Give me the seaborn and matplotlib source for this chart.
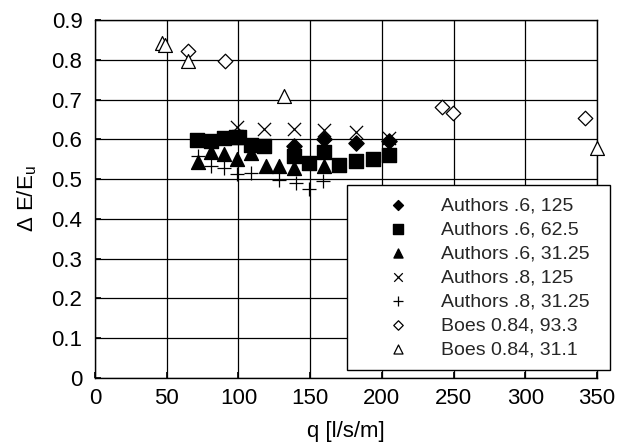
import matplotlib
matplotlib.use("Agg")
import matplotlib.pyplot as plt
import seaborn as sns
import pandas as pd

# Data
a6_125_x = [139, 159.7, 182.3, 205.3]
a6_125_y = [0.584, 0.600, 0.590, 0.596]

a6_625_x = [71.3, 80.6, 90, 98, 100.5, 108.6, 118, 138.6, 149.5, 159.7, 170.3, 181.8, 193.8, 205.3]
a6_625_y = [0.598, 0.596, 0.604, 0.607, 0.607, 0.587, 0.584, 0.557, 0.540, 0.568, 0.536, 0.546, 0.551, 0.561]

a6_3125_x = [71.7, 81, 90, 99.3, 108.6, 119, 128.5, 139, 159.7]
a6_3125_y = [0.544, 0.568, 0.562, 0.550, 0.565, 0.532, 0.532, 0.529, 0.534]

a8_125_x = [99.3, 118, 139, 159.7, 182.3, 205.3]
a8_125_y = [0.632, 0.626, 0.627, 0.623, 0.619, 0.603]

a8_3125_x = [71.7, 81, 90, 99.3, 108.6, 128.5, 140, 149.5, 158.8]
a8_3125_y = [0.557, 0.532, 0.529, 0.512, 0.515, 0.498, 0.490, 0.475, 0.496]

boes_933_x = [64.7, 90.7, 242, 249.5, 341.5]
boes_933_y = [0.822, 0.798, 0.682, 0.667, 0.654]

boes_311_x = [47, 49, 65.1, 132, 350]
boes_311_y = [0.842, 0.836, 0.796, 0.709, 0.578]

labels = ["Authors .6, 125", "Authors .6, 62.5", "Authors .6, 31.25",
          "Authors .8, 125", "Authors .8, 31.25", "Boes 0.84, 93.3", "Boes 0.84, 31.1"]

x_ticks = [0, 50, 100, 150, 200, 250, 300, 350]
y_ticks = [0, 0.1, 0.2, 0.3, 0.4, 0.5, 0.6, 0.7, 0.8, 0.9]

sns.set_theme(style="white")
plt.rcParams['font.family'] = ['Liberation Sans', 'DejaVu Sans']

fig = plt.figure(figsize=(6.2, 4.47), dpi=100)
ax = fig.add_axes([95/620, 1-378/447, (597-95)/620, (378-20)/447])

series = [
    (a6_125_x, a6_125_y, "D", "black", "black", 60, 1.0),
    (a6_625_x, a6_625_y, "s", "black", "black", 105, 1.0),
    (a6_3125_x, a6_3125_y, "^", "black", "black", 100, 1.0),
    (a8_125_x, a8_125_y, "x", "black", "black", 90, 0.9),
    (a8_3125_x, a8_3125_y, "+", "black", "black", 100, 0.9),
    (boes_933_x, boes_933_y, "D", "white", "black", 55, 0.9),
    (boes_311_x, boes_311_y, "^", "white", "black", 100, 0.9),
]

for (xs, ys, m, fc, ec, s, lw), lab in zip(series, labels):
    df = pd.DataFrame({"q": xs, "v": ys})
    if m in ("x", "+"):
        sns.scatterplot(data=df, x="q", y="v", marker=m, color="black", s=s,
                        linewidth=lw, ax=ax, label=lab, zorder=3, clip_on=False)
    else:
        sns.scatterplot(data=df, x="q", y="v", marker=m, facecolor=fc, edgecolor=ec,
                        s=s, linewidth=lw, ax=ax, label=lab, zorder=3, clip_on=False)

ax.set_xlim(0, 350)
ax.set_ylim(0, 0.9)
ax.set_xticks(x_ticks)
ax.set_yticks(y_ticks)
ax.set_xticklabels([str(t) for t in x_ticks])
ax.set_yticklabels(["0"] + [f"{t:.1f}" for t in y_ticks[1:]])
ax.grid(True, color="black", linewidth=0.9)
for sp in ax.spines.values():
    sp.set_visible(True)
    sp.set_color("black")
    sp.set_linewidth(1.0)
ax.tick_params(axis="y", labelsize=16, colors="black", length=4, direction="in",
               left=True, pad=9)
ax.tick_params(axis="x", labelsize=16, colors="black", length=4, direction="in",
               bottom=True, pad=7)
ax.set_xlabel("q [l/s/m]", fontsize=16, color="black", labelpad=9)
ax.set_ylabel("Δ E/E$_\\mathregular{u}$", fontsize=16, color="black", labelpad=9)

leg = ax.legend(loc="upper left", bbox_to_anchor=(347/620, 1-372/447, 263/620, 187/447),
                bbox_transform=fig.transFigure, mode="expand", frameon=True, fancybox=False,
                edgecolor="black", fontsize=14, handlelength=4.0, handletextpad=0.25,
                borderpad=0.6, labelspacing=0.33, markerscale=0.65,
                borderaxespad=0, framealpha=1)
leg.get_frame().set_linewidth(1.0)
leg.set_zorder(5)

fig.savefig("out.png", dpi=100)
